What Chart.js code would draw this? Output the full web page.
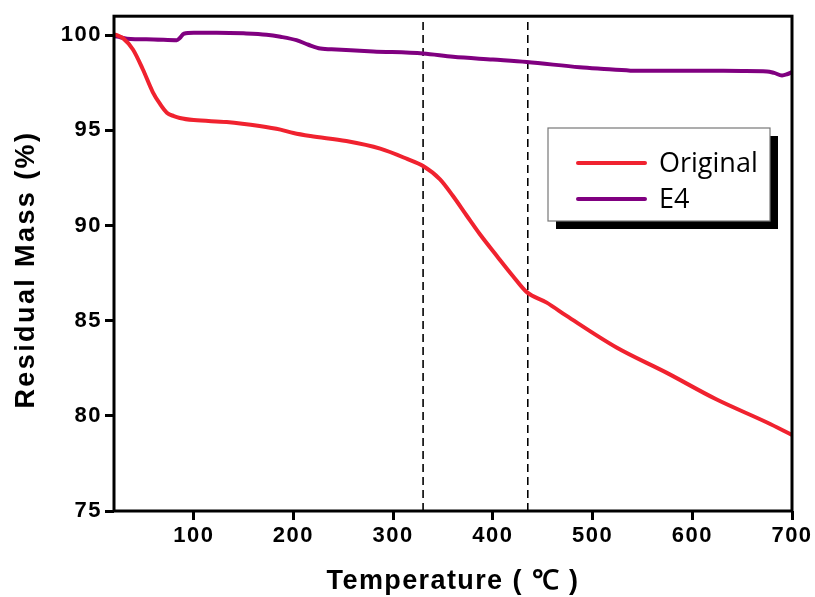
<!DOCTYPE html>
<html>
<head>
<meta charset="utf-8">
<script src="https://cdn.jsdelivr.net/npm/chart.js@4.4.1/dist/chart.umd.min.js"></script>
<style>
  body { margin: 0; background: #fff; }
  canvas { display: block; }
</style>
</head>
<body>
<canvas id="tgaChart" width="815" height="597"></canvas>
<script>
// Дані (температура, °C / залишкова маса, %)
const originalTemp = [20, 24, 29, 39, 49, 59, 66, 73, 80, 86, 100, 133, 166, 187, 200, 217, 253, 287, 314, 330, 347, 360, 374, 387, 404, 420, 434, 454, 474, 524, 574, 624, 675, 700];
const originalMass = [100.05, 99.98, 99.85, 99.25, 98.2, 97.0, 96.4, 95.93, 95.75, 95.65, 95.54, 95.44, 95.23, 95.04, 94.86, 94.7, 94.44, 94.04, 93.5, 93.13, 92.43, 91.55, 90.5, 89.54, 88.4, 87.35, 86.5, 85.95, 85.25, 83.59, 82.27, 80.87, 79.65, 79.0];

const e4Temp = [20, 23, 33, 60, 83, 86, 90, 100, 123, 150, 173, 187, 203, 215, 227, 243, 280, 330, 360, 400, 434, 487, 508, 538, 560, 608, 650, 675, 682, 690, 695, 700];
const e4Mass = [99.95, 99.93, 99.82, 99.78, 99.74, 99.85, 100.08, 100.13, 100.13, 100.1, 100.03, 99.92, 99.74, 99.5, 99.3, 99.25, 99.15, 99.04, 98.87, 98.72, 98.59, 98.32, 98.24, 98.14, 98.13, 98.14, 98.12, 98.1, 98.02, 97.89, 97.95, 98.06];

// Вертикальні пунктирні лінії
const markerTemps = [330, 435];

const xTicks = [100, 200, 300, 400, 500, 600, 700];
const yTicks = [75, 80, 85, 90, 95, 100];

const xTitle = 'Temperature ( \u2103 )';
const yTitle = 'Residual Mass (%)';

const seriesNames = ['Original', 'E4'];
const seriesColors = ['#f0222f', '#800080'];

function toPoints(xs, ys) {
    return xs.map((x, i) => ({ x: x, y: ys[i] }));
}

const datasets = [
    {
        label: seriesNames[0],
        data: toPoints(originalTemp, originalMass),
        borderColor: seriesColors[0],
        borderWidth: 4,
        pointRadius: 0,
        cubicInterpolationMode: 'monotone'
    },
    {
        label: seriesNames[1],
        data: toPoints(e4Temp, e4Mass),
        borderColor: seriesColors[1],
        borderWidth: 4,
        pointRadius: 0,
        cubicInterpolationMode: 'monotone'
    }
];

markerTemps.forEach(t => {
    datasets.push({
        label: 'marker',
        data: [{ x: t, y: 75 }, { x: t, y: 101 }],
        borderColor: '#000',
        borderWidth: 1.6,
        borderDash: [8, 5],
        pointRadius: 0,
        isMarker: true
    });
});

// Рамка, підписи осей і легенда з тінню
const decorPlugin = {
    id: 'decor',
    beforeDraw(chart) {
        // трохи розріджені цифри на осях
        chart.ctx.letterSpacing = '1.5px';
    },
    beforeDatasetsDraw(chart) {
        chart.ctx.letterSpacing = '0px';
    },
    afterDraw(chart) {
        const { ctx, chartArea: a } = chart;
        ctx.save();
        ctx.strokeStyle = '#000';
        ctx.lineWidth = 3;
        ctx.strokeRect(a.left, a.top, a.right - a.left, a.bottom - a.top);

        // підписи осей
        ctx.fillStyle = '#000';
        ctx.textAlign = 'center';
        ctx.textBaseline = 'middle';
        ctx.font = 'bold 27px "Liberation Sans", Arial, sans-serif';
        ctx.letterSpacing = '1.4px';
        ctx.fillText(xTitle, (a.left + a.right) / 2, 582);
        ctx.save();
        ctx.letterSpacing = '2.4px';
        ctx.translate(27, (a.top + a.bottom) / 2 + 6);
        ctx.rotate(-Math.PI / 2);
        ctx.fillText(yTitle, 0, 0);
        ctx.restore();
        ctx.letterSpacing = '0px';

        // легенда
        const bx = 548, by = 128, bw = 222, bh = 93;
        ctx.fillStyle = '#000';
        ctx.fillRect(bx + 8, by + 8, bw, bh);
        ctx.fillStyle = '#fff';
        ctx.fillRect(bx, by, bw, bh);
        ctx.strokeStyle = '#777';
        ctx.lineWidth = 1.2;
        ctx.strokeRect(bx, by, bw, bh);

        ctx.font = '27px "Open Sans", sans-serif';
        ctx.textAlign = 'left';
        ctx.textBaseline = 'alphabetic';
        const rows = [163, 199];
        chart.data.datasets.filter(d => !d.isMarker).forEach((d, i) => {
            ctx.strokeStyle = d.borderColor;
            ctx.lineWidth = 4;
            ctx.lineCap = 'round';
            ctx.beginPath();
            ctx.moveTo(578, rows[i]);
            ctx.lineTo(645, rows[i]);
            ctx.stroke();
            ctx.fillStyle = '#000';
            ctx.fillText(d.label, 659, rows[i] + 9);
        });
        ctx.restore();
    }
};

const ctx = document.getElementById('tgaChart').getContext('2d');
const chart = new Chart(ctx, {
    type: 'line',
    data: { datasets: datasets },
    plugins: [decorPlugin],
    options: {
        responsive: false,
        animation: false,
        layout: { padding: { left: 0, top: 16, right: 23, bottom: 0 } },
        plugins: {
            legend: { display: false },
            tooltip: { enabled: false }
        },
        scales: {
            x: {
                type: 'linear',
                min: 20,
                max: 700,
                afterBuildTicks: scale => { scale.ticks = xTicks.map(v => ({ value: v })); },
                afterFit: scale => { scale.height = 86; },
                border: { display: false },
                grid: { drawOnChartArea: false, drawTicks: true, tickLength: 9, tickWidth: 3, tickColor: '#000' },
                ticks: {
                    color: '#000',
                    padding: 3,
                    maxRotation: 0,
                    font: { family: '"Liberation Sans", Arial, sans-serif', weight: 'bold', size: 22 }
                }
            },
            y: {
                min: 75,
                max: 101,
                afterBuildTicks: scale => { scale.ticks = yTicks.map(v => ({ value: v })); },
                afterFit: scale => { scale.width = 114; },
                border: { display: false },
                grid: { drawOnChartArea: false, drawTicks: true, tickLength: 9, tickWidth: 3, tickColor: '#000' },
                ticks: {
                    color: '#000',
                    padding: 3,
                    font: { family: '"Liberation Sans", Arial, sans-serif', weight: 'bold', size: 22 }
                }
            }
        }
    }
});
</script>
</body>
</html>
